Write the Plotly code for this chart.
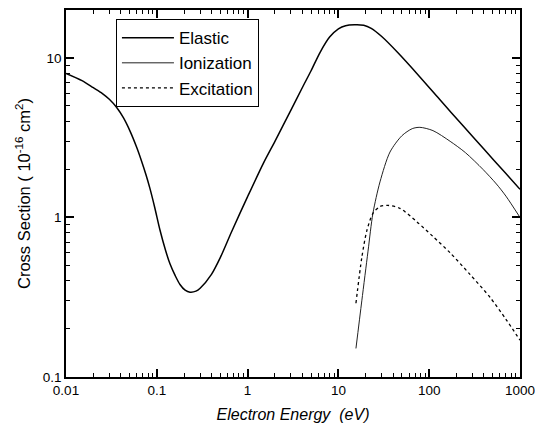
import plotly.graph_objects as go

# Electron energy (eV) and cross sections (1e-16 cm^2)
elastic_E = [0.01, 0.015, 0.02, 0.025, 0.03, 0.036, 0.043, 0.051, 0.06, 0.068, 0.076, 0.084,
             0.095, 0.108, 0.125, 0.14, 0.16, 0.18, 0.205, 0.232, 0.27, 0.3, 0.4, 0.5, 0.67,
             1.0, 1.5, 2.0, 3.0, 4.0, 5.0, 6.27, 8.0, 10.0, 12.0, 15.0, 19.0, 23.0, 30.0,
             45.0, 79.0, 130.0, 236.0, 400.0, 684.0, 1000.0]
elastic_S = [8.0, 7.2, 6.5, 6.0, 5.5, 4.9, 4.2, 3.45, 2.75, 2.25, 1.85, 1.52,
             1.15, 0.84, 0.62, 0.51, 0.43, 0.38, 0.35, 0.34, 0.345, 0.36, 0.44, 0.56, 0.82,
             1.35, 2.2, 3.0, 4.7, 6.5, 8.3, 10.8, 13.5, 15.2, 15.9, 16.1, 16.0, 15.3, 13.6,
             10.8, 7.6, 5.5, 3.75, 2.68, 1.91, 1.5]

ionization_E = [15.6, 18.1, 21.2, 24.0, 28.7, 37.0, 50.0, 65.0, 79.0, 110.0, 170.0, 250.0,
                391.0, 550.0, 700.0, 1000.0]
ionization_S = [0.151, 0.30, 0.615, 1.06, 1.67, 2.57, 3.25, 3.6, 3.67, 3.5, 3.0, 2.55,
                2.0, 1.62, 1.36, 1.0]

excitation_E = [15.6, 18.1, 20.5, 24.0, 28.7, 35.0, 47.6, 73.0, 110.0, 170.0, 281.0,
                467.0, 700.0, 1000.0]
excitation_S = [0.29, 0.56, 0.82, 1.06, 1.17, 1.19, 1.14, 0.94, 0.76, 0.60, 0.44,
                0.316, 0.23, 0.17]

x_tickvals = [0.01, 0.1, 1, 10, 100, 1000]
x_ticktext = ["0.01", "0.1", "1", "10", "100", "1000"]
x_minorvals = [m * d for d in [0.01, 0.1, 1, 10, 100] for m in range(2, 10)]
y_tickvals = [0.1, 1, 10]
y_ticktext = ["0.1", "1", "10"]
y_minorvals = [m * d for d in [0.1, 1, 10] for m in range(2, 10)]

FONT = "Liberation Sans, Arial, sans-serif"
X_RANGE = [-2, 3]
Y_RANGE = [-1, 1.3]

fig = go.Figure()
fig.add_trace(go.Scatter(x=elastic_E, y=elastic_S, mode="lines", name="Elastic",
                         line=dict(color="black", width=1.5, shape="spline", smoothing=0.8)))
fig.add_trace(go.Scatter(x=ionization_E, y=ionization_S, mode="lines", name="Ionization",
                         line=dict(color="#222", width=1.0, shape="spline", smoothing=0.8)))
fig.add_trace(go.Scatter(x=excitation_E, y=excitation_S, mode="lines", name="Excitation",
                         line=dict(color="black", width=1.3, dash="dot", shape="spline", smoothing=0.8)))

common = dict(type="log", showgrid=False, zeroline=False, showline=True, linecolor="black",
              linewidth=1.5, mirror="allticks", ticks="inside", tickcolor="#000000",
              ticklen=8, tickwidth=1.5, layer="above traces")

# The page body has an 8px margin, so the figure is sized/offset to compensate.
fig.update_layout(
    width=535, height=428,
    margin=dict(l=58, r=23, t=0, b=59),
    paper_bgcolor="white", plot_bgcolor="rgba(0,0,0,0)",
    font=dict(family=FONT, color="black"),
    xaxis=dict(common, range=X_RANGE, tickmode="array", tickvals=x_tickvals, ticktext=x_ticktext,
               tickfont=dict(family=FONT, size=13.5, color="black"),
               minor=dict(tickmode="array", tickvals=x_minorvals, ticks="inside",
                          ticklen=4, tickwidth=1.2, tickcolor="#000000", showgrid=False),
               title=dict(text="<i>Electron Energy  (eV)</i>", font=dict(size=16), standoff=12)),
    yaxis=dict(common, range=Y_RANGE, tickmode="array", tickvals=y_tickvals, ticktext=y_ticktext,
               tickfont=dict(family=FONT, size=13.5, color="black"),
               minor=dict(tickmode="array", tickvals=y_minorvals, ticks="inside",
                          ticklen=4, tickwidth=1.2, tickcolor="#000000", showgrid=False),
               title=dict(text="Cross Section ( 10<sup>-16</sup> cm<sup>2</sup>)", font=dict(size=16.5), standoff=8)),
    legend=dict(x=0.11, y=0.975, xanchor="left", yanchor="top",
                bordercolor="black", borderwidth=1, bgcolor="white",
                font=dict(size=17, family=FONT),
                tracegroupgap=0, itemwidth=52),
    showlegend=True,
)

fig.write_html("out.html")
